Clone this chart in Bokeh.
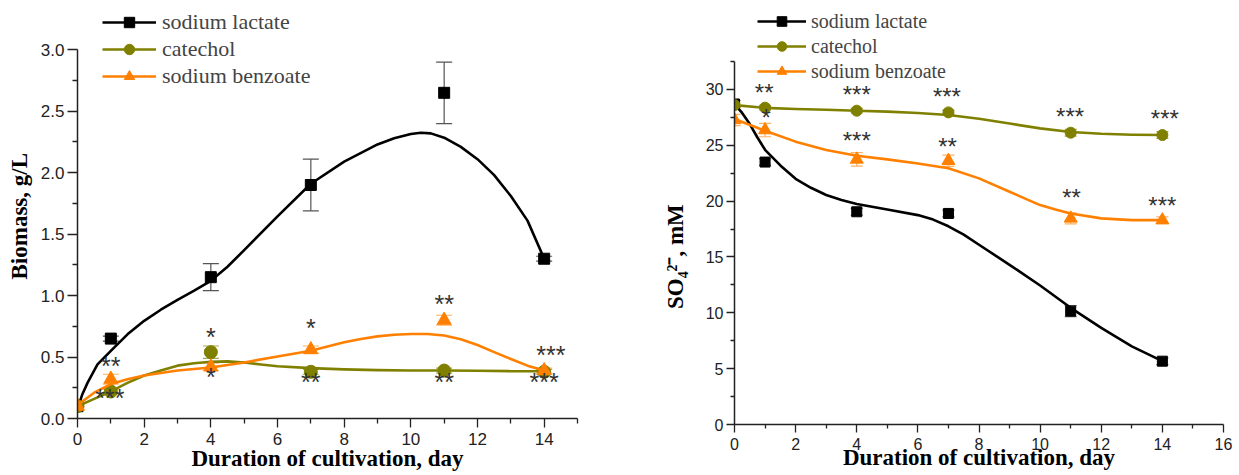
from bokeh.plotting import figure
from bokeh.layouts import row, column
from bokeh.models import (ColumnDataSource, FixedTicker, PrintfTickFormatter,
                          Legend, LegendItem, Whisker, TeeHead)
from bokeh.core.properties import value
from bokeh.embed import file_html
from bokeh.resources import INLINE

# ---------------- data ----------------
days = [0, 1, 4, 7, 11, 14]
series_names = ["sodium lactate", "catechol", "sodium benzoate"]

# Biomass, g/L
bio_lactate = [0.10, 0.65, 1.15, 1.90, 2.65, 1.30]
bio_lactate_err = [0.0, 0.02, 0.11, 0.21, 0.25, 0.02]
bio_catechol = [0.10, 0.22, 0.54, 0.38, 0.39, 0.38]
bio_catechol_err = [0.0, 0.02, 0.05, 0.02, 0.02, 0.02]
bio_benzoate = [0.10, 0.32, 0.42, 0.56, 0.80, 0.39]
bio_benzoate_err = [0.0, 0.04, 0.03, 0.03, 0.04, 0.02]

# fitted curves
bio_fit_lactate_x = [0, 0.15, 0.3, 0.6, 1, 1.5, 2, 2.5, 3, 3.5, 4, 4.5, 5, 6, 7, 8, 9, 9.5, 10, 10.3, 10.6, 11, 11.5, 12, 12.5, 13, 13.5, 14]
bio_fit_lactate_y = [0.08, 0.20, 0.29, 0.44, 0.55, 0.685, 0.795, 0.885, 0.965, 1.04, 1.12, 1.235, 1.37, 1.645, 1.91, 2.09, 2.23, 2.28, 2.315, 2.325, 2.32, 2.285, 2.21, 2.11, 1.98, 1.81, 1.61, 1.30]
bio_fit_catechol_x = [0, 0.5, 1, 1.5, 2, 2.5, 3, 3.5, 4, 4.5, 5, 5.5, 6, 7, 8, 9, 10, 11, 12, 13, 14]
bio_fit_catechol_y = [0.10, 0.16, 0.22, 0.29, 0.35, 0.39, 0.43, 0.45, 0.462, 0.465, 0.456, 0.44, 0.425, 0.41, 0.40, 0.394, 0.39, 0.39, 0.388, 0.385, 0.385]
bio_fit_benzoate_x = [0, 0.5, 1, 1.5, 2, 3, 4, 5, 6, 7, 7.5, 8, 8.5, 9, 9.5, 10, 10.5, 11, 11.5, 12, 12.5, 13, 13.5, 14]
bio_fit_benzoate_y = [0.11, 0.21, 0.28, 0.32, 0.35, 0.39, 0.415, 0.456, 0.505, 0.552, 0.585, 0.62, 0.647, 0.668, 0.682, 0.688, 0.688, 0.675, 0.645, 0.598, 0.54, 0.484, 0.43, 0.39]

bio_sig_x = [1.0, 0.97, 4, 4, 7, 7, 11, 11, 14.2, 14.0]
bio_sig_y = [0.443, 0.185, 0.68, 0.354, 0.75, 0.313, 0.945, 0.313, 0.533, 0.313]
bio_sig_text = ["**", "***", "*", "*", "*", "**", "**", "**", "***", "***"]

# SO4(2-), mM
so4_lactate = [28.7, 23.5, 19.05, 18.9, 10.15, 5.67]
so4_lactate_err = [0.3, 0.3, 0.3, 0.3, 0.5, 0.3]
so4_catechol = [28.6, 28.37, 28.1, 27.95, 26.13, 25.92]
so4_catechol_err = [0.2, 0.2, 0.2, 0.2, 0.3, 0.3]
so4_benzoate = [27.27, 26.37, 23.74, 23.62, 18.46, 18.3]
so4_benzoate_err = [0.5, 0.6, 0.6, 0.5, 0.5, 0.3]

so4_fit_lactate_x = [0, 0.25, 0.5, 0.75, 1, 1.5, 2, 2.5, 3, 3.5, 4, 5, 6, 6.5, 7, 7.5, 8, 9, 10, 11, 12, 13, 14]
so4_fit_lactate_y = [28.7, 27.9, 26.9, 25.7, 24.6, 23.2, 22.0, 21.2, 20.55, 20.1, 19.75, 19.25, 18.75, 18.35, 17.75, 17.0, 16.1, 14.3, 12.45, 10.45, 8.65, 7.0, 5.67]
so4_fit_catechol_x = [0, 1, 2, 3, 4, 5, 6, 7, 8, 9, 10, 11, 12, 13, 14]
so4_fit_catechol_y = [28.6, 28.35, 28.25, 28.18, 28.1, 28.02, 27.9, 27.72, 27.38, 26.95, 26.52, 26.2, 26.03, 25.95, 25.92]
so4_fit_benzoate_x = [0, 1, 2, 3, 4, 5, 6, 7, 8, 9, 10, 10.5, 11, 12, 13, 14]
so4_fit_benzoate_y = [27.35, 26.3, 25.33, 24.58, 24.07, 23.74, 23.38, 22.94, 22.04, 20.84, 19.65, 19.25, 18.9, 18.46, 18.3, 18.3]

so4_sig_x = [0.97, 1.04, 4, 4, 6.95, 6.97, 10.98, 11.03, 14.08, 14.0]
so4_sig_y = [29.8, 27.6, 29.65, 25.5, 29.45, 25.0, 27.65, 20.45, 27.5, 19.74]
so4_sig_text = ["**", "*", "***", "***", "***", "**", "***", "**", "***", "***"]

bio_xticks = [0, 2, 4, 6, 8, 10, 12, 14]
bio_xminor = [1, 3, 5, 7, 9, 11, 13, 15]
bio_yticks = [0.0, 0.5, 1.0, 1.5, 2.0, 2.5, 3.0]
bio_yminor = [0.25, 0.75, 1.25, 1.75, 2.25, 2.75]
so4_xticks = [0, 2, 4, 6, 8, 10, 12, 14, 16]
so4_xminor = [1, 3, 5, 7, 9, 11, 13, 15]
so4_yticks = [0, 5, 10, 15, 20, 25, 30]
so4_yminor = [2.5, 7.5, 12.5, 17.5, 22.5, 27.5, 32.5]

bio_xlabel = "Duration of cultivation, day"
bio_ylabel = "Biomass, g/L"
so4_xlabel = "Duration of cultivation, day"
so4_ylabel = "SO\u2084\u00b2\u207b, mM"

# ---------------- style ----------------
SERIF = "Liberation Serif"
SANS = "Liberation Sans"
COLORS = ["#000000", "#808000", "#FF8000"]
MARKERS = ["square", "circle", "triangle"]
ERR_COLORS = ["#555555", "#A8A850", "#FFB060"]
NBSP = "\u00a0"
H = 475


def base_fig(width, ml, mr, mt, mb, xr, yr):
    p = figure(width=width, height=H, x_range=xr, y_range=yr,
               min_border_left=ml, min_border_right=mr, min_border_top=mt,
               min_border_bottom=mb, output_backend="svg", toolbar_location=None)
    p.outline_line_color = None
    p.xgrid.visible = False
    p.ygrid.visible = False
    p.background_fill_color = "white"
    p.border_fill_color = "white"
    for ax in (p.xaxis[0], p.yaxis[0]):
        ax.axis_line_color = "#222222"
        ax.axis_line_width = 1.5
        ax.major_tick_line_color = "#222222"
        ax.minor_tick_line_color = "#222222"
        ax.major_tick_line_width = 1.3
        ax.minor_tick_line_width = 1.3
        ax.major_tick_in = 0
        ax.minor_tick_in = 0
        ax.major_label_text_font = SANS
        ax.major_label_text_color = "#222222"
        ax.axis_label_text_font = SERIF
        ax.axis_label_text_font_size = "23px"
        ax.axis_label_text_font_style = "bold"
        ax.axis_label_text_color = "#000000"
    return p


def add_series(p, xs, ys, errs, fx, fy, i, msize, cap):
    color = COLORS[i]
    sel = [k for k, e in enumerate(errs) if e > 0]
    src = ColumnDataSource(dict(x=[xs[k] for k in sel],
                                upper=[ys[k] + errs[k] for k in sel],
                                lower=[ys[k] - errs[k] for k in sel]))
    w = Whisker(source=src, base="x", upper="upper", lower="lower", dimension="height",
                line_color=ERR_COLORS[i], line_width=1.2, level="underlay",
                upper_head=TeeHead(size=cap, line_color=ERR_COLORS[i], line_width=1.2),
                lower_head=TeeHead(size=cap, line_color=ERR_COLORS[i], line_width=1.2))
    p.add_layout(w)
    ln = p.line(fx, fy, line_color=color, line_width=2.6, line_join="round")
    sc = p.scatter(xs, ys, marker=MARKERS[i], size=msize[i], fill_color=color,
                   line_color=color)
    return ln, sc


def add_sig(p, xs, ys, texts, fs, dy):
    p.text(xs, ys, text=texts, text_font=value(SANS), text_font_size=f"{fs}px",
           text_align="center", text_baseline="alphabetic", text_color="#333333",
           y_offset=dy)


# ---------------- left: biomass ----------------
LW = 630
lml, lmr, lmt, lmb = 77, 53, 2, 57
l_frame_h = H - lmt - lmb          # 416 -> y=0 at 418
l_pxu = 122.9                       # px per g/L
p1 = base_fig(LW, lml, lmr, lmt, lmb, (0, 15.0), (0, l_frame_h / l_pxu))
p1.xaxis.ticker = FixedTicker(ticks=bio_xticks, minor_ticks=bio_xminor)
p1.yaxis.ticker = FixedTicker(ticks=bio_yticks, minor_ticks=bio_yminor)
p1.yaxis.formatter = PrintfTickFormatter(format="%.1f")
p1.xaxis.bounds = (0, 15)
p1.yaxis.bounds = (0, 3.0)
p1.xaxis.major_tick_out = 9
p1.xaxis.minor_tick_out = 5
p1.yaxis.major_tick_out = 10
p1.yaxis.minor_tick_out = 5
p1.xaxis.major_label_standoff = 5
p1.yaxis.major_label_standoff = 3
p1.xaxis.major_label_text_font_size = "17px"
p1.yaxis.major_label_text_font_size = "17px"
p1.xaxis.axis_label = bio_xlabel
p1.yaxis.axis_label = bio_ylabel + NBSP * 2
p1.xaxis.axis_label_standoff = -2
p1.yaxis.axis_label_standoff = 6

items1 = []
for i, (ys, es, fx, fy) in enumerate([
        (bio_lactate, bio_lactate_err, bio_fit_lactate_x, bio_fit_lactate_y),
        (bio_catechol, bio_catechol_err, bio_fit_catechol_x, bio_fit_catechol_y),
        (bio_benzoate, bio_benzoate_err, bio_fit_benzoate_x, bio_fit_benzoate_y)]):
    ln, sc = add_series(p1, days, ys, es, fx, fy, i, [11, 13, 14], 16)
    items1.append(LegendItem(label=series_names[i], renderers=[ln, sc]))
add_sig(p1, bio_sig_x, bio_sig_y, bio_sig_text, 25, 2)

leg1 = Legend(items=items1, location=(25, 329), glyph_width=54, glyph_height=26,
              label_height=26, spacing=1, padding=0, margin=0, label_standoff=6,
              label_text_font=SERIF, label_text_font_size="22px",
              border_line_alpha=0, background_fill_alpha=0)
p1.add_layout(leg1)

# ---------------- right: sulfate ----------------
RW = 609
rml, rmr, rmt, rmb = 104, 16, 2, 51
r_frame_h = H - rmt - rmb           # 422 -> y=0 at 424
r_pxu = 11.167
p2 = base_fig(RW, rml, rmr, rmt, rmb, (0, 16.0), (0, r_frame_h / r_pxu))
p2.xaxis.ticker = FixedTicker(ticks=so4_xticks, minor_ticks=so4_xminor)
p2.yaxis.ticker = FixedTicker(ticks=so4_yticks, minor_ticks=so4_yminor)
p2.yaxis.formatter = PrintfTickFormatter(format="%d")
p2.xaxis.bounds = (0, 16)
p2.yaxis.bounds = (0, 32.55)
p2.xaxis.major_tick_out = 8
p2.xaxis.minor_tick_out = 4
p2.yaxis.major_tick_out = 8
p2.yaxis.minor_tick_out = 4
p2.xaxis.major_label_standoff = 5
p2.yaxis.major_label_standoff = 3
p2.xaxis.major_label_text_font_size = "16px"
p2.yaxis.major_label_text_font_size = "16px"
p2.xaxis.axis_label = so4_xlabel
p2.yaxis.axis_label = so4_ylabel + NBSP * 15
p2.xaxis.axis_label_standoff = -8
p2.yaxis.axis_label_standoff = 15

items2 = []
for i, (ys, es, fx, fy) in enumerate([
        (so4_lactate, so4_lactate_err, so4_fit_lactate_x, so4_fit_lactate_y),
        (so4_catechol, so4_catechol_err, so4_fit_catechol_x, so4_fit_catechol_y),
        (so4_benzoate, so4_benzoate_err, so4_fit_benzoate_x, so4_fit_benzoate_y)]):
    ln, sc = add_series(p2, days, ys, es, fx, fy, i, [10, 11, 13], 12)
    items2.append(LegendItem(label=series_names[i], renderers=[ln, sc]))
add_sig(p2, so4_sig_x, so4_sig_y, so4_sig_text, 24, 1)

leg2 = Legend(items=items2, location=(23, 341), glyph_width=49, glyph_height=24,
              label_height=24, spacing=1, padding=0, margin=0, label_standoff=5,
              label_text_font=SERIF, label_text_font_size="20px",
              border_line_alpha=0, background_fill_alpha=0)
p2.add_layout(leg2)

layout = row(column(p1), column(p2))
open("out.html", "w").write(file_html(layout, INLINE))
